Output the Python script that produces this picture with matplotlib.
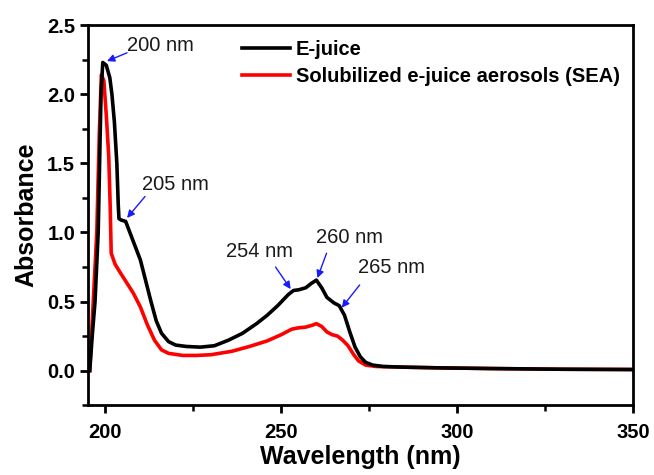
import matplotlib
matplotlib.use("Agg")
import matplotlib.pyplot as plt
from matplotlib.ticker import MultipleLocator, FormatStrFormatter

plt.rcParams['font.family'] = ['Liberation Sans', 'DejaVu Sans']

wl_ejuice = [195.6, 196.3, 197.1, 198.0, 198.4, 198.8, 199.3, 200.3, 201.3, 201.9, 202.6, 203.3,
             203.7, 203.9, 204.5, 205.8, 207, 208.5, 210, 211.5, 213, 214.5, 216, 218, 220, 223,
             227, 231, 235, 239, 243, 246, 249, 252, 253.5, 255, 257, 258.5, 260, 261.5, 263,
             265, 266.5, 268, 269.5, 271, 272.5, 274, 276, 279, 285, 295, 310, 330, 350]
abs_ejuice = [0.0, 0.25, 0.5, 1.0, 1.5, 2.0, 2.23, 2.21, 2.12, 2.0, 1.8, 1.5,
              1.2, 1.1, 1.09, 1.08, 1.0, 0.9, 0.8, 0.65, 0.5, 0.36, 0.27, 0.21, 0.185, 0.175,
              0.17, 0.18, 0.22, 0.27, 0.34, 0.40, 0.47, 0.55, 0.58, 0.585, 0.60, 0.63, 0.655, 0.60, 0.53,
              0.49, 0.47, 0.40, 0.28, 0.17, 0.10, 0.06, 0.04, 0.03, 0.025, 0.02, 0.015, 0.01, 0.008]

wl_sea = [195.6, 196.6, 197.6, 198.3, 198.9, 199.6, 200.3, 201.0, 201.4, 201.7, 202.8, 204, 206,
          208, 210, 212, 214, 216, 218, 222, 226, 230, 236, 241, 246, 250, 253, 255, 257, 259,
          260, 261.5, 263, 264.5, 266, 267.5, 269, 270.5, 272, 274, 277, 285, 295, 310, 330, 350]
abs_sea = [0.0, 0.5, 1.0, 1.7, 2.14, 2.1, 1.85, 1.55, 1.2, 0.85, 0.77, 0.72, 0.64,
           0.56, 0.46, 0.33, 0.22, 0.15, 0.125, 0.11, 0.11, 0.115, 0.14, 0.175, 0.215, 0.26, 0.30, 0.31, 0.315, 0.33,
           0.34, 0.32, 0.28, 0.26, 0.25, 0.22, 0.18, 0.12, 0.07, 0.04, 0.03, 0.025, 0.02, 0.015, 0.01, 0.008]

x_ticks = [200, 250, 300, 350]
y_ticks = [0.0, 0.5, 1.0, 1.5, 2.0, 2.5]

ann_labels = ["200 nm", "205 nm", "254 nm", "260 nm", "265 nm"]
ann_head = [(200.5, 2.24), (206.2, 1.105), (252.7, 0.59), (260.3, 0.67), (267.2, 0.455)]
ann_tail = [(206.2, 2.30), (211.3, 1.26), (248.4, 0.75), (262.9, 0.85), (272.3, 0.62)]
ann_text = [(206.2, 2.355), (210.5, 1.344), (234.3, 0.86), (260.0, 0.96), (271.7, 0.744)]

fig = plt.figure(figsize=(6.54, 4.75), dpi=100)
ax = fig.add_axes([0.134, 0.147, 0.834, 0.800])

ax.plot(wl_ejuice, abs_ejuice, color='black', lw=2.6, label='E-juice', zorder=3)
ax.plot(wl_sea, abs_sea, color='#ff0000', lw=2.6, label='Solubilized e-juice aerosols (SEA)', zorder=2)

for lab, h, t, tx in zip(ann_labels, ann_head, ann_tail, ann_text):
    ax.annotate('', xy=h, xytext=t,
                arrowprops=dict(arrowstyle='-|>', color='#1a1aff', lw=1.0,
                                mutation_scale=11, shrinkA=0, shrinkB=0))
    ax.text(tx[0], tx[1], lab, fontsize=14.5, ha='left', va='center', color='#1a1a1a')

ax.set_xlim(195, 350)
ax.set_ylim(-0.25, 2.5)
ax.set_xticks(x_ticks)
ax.set_yticks(y_ticks)
ax.xaxis.set_minor_locator(MultipleLocator(25))
ax.yaxis.set_minor_locator(MultipleLocator(0.25))
ax.tick_params(axis='x', which='major', direction='out', length=6, width=2.0, labelsize=14.5, pad=7)
ax.tick_params(axis='y', which='major', direction='out', length=6, width=2.0, labelsize=14.5, pad=3)
ax.tick_params(which='minor', direction='out', length=4, width=1.8)
ax.tick_params(top=False, right=False, which='both')
ax.yaxis.set_major_formatter(FormatStrFormatter('%.1f'))
for lab in ax.get_xticklabels() + ax.get_yticklabels():
    lab.set_fontweight('bold')
for s in ax.spines.values():
    s.set_linewidth(2.0)

ax.set_xlabel('Wavelength (nm)', fontsize=18, fontweight='bold', labelpad=2)
ax.set_ylabel('Absorbance', fontsize=18, fontweight='bold', labelpad=6)

leg = ax.legend(loc='upper right', bbox_to_anchor=(0.991, 0.982), frameon=False,
                prop={'weight': 'bold', 'size': 14.5},
                handlelength=2.4, handletextpad=0.3, borderaxespad=0.1, labelspacing=0.4,
                borderpad=0.3)

fig.savefig('out.png', dpi=100)
